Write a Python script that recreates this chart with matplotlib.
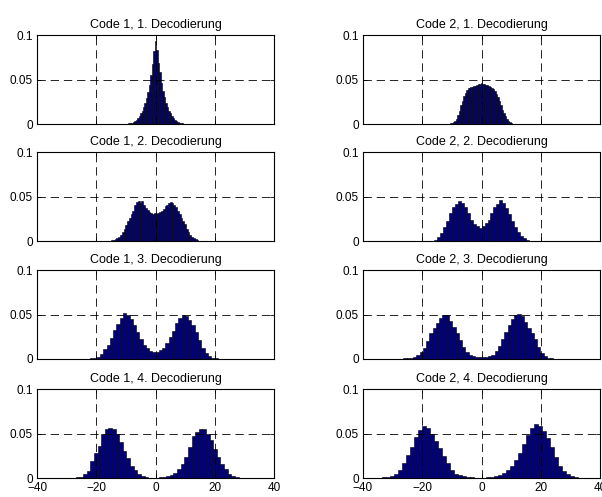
import numpy as np
import matplotlib.pyplot as plt
import matplotlib as mpl

mpl.rcParams.update({'font.family': 'Liberation Sans', 'font.size': 8.5,
                     'lines.scale_dashes': False})

titles = ['Code 1, 1. Decodierung', 'Code 2, 1. Decodierung',
          'Code 1, 2. Decodierung', 'Code 2, 2. Decodierung',
          'Code 1, 3. Decodierung', 'Code 2, 3. Decodierung',
          'Code 1, 4. Decodierung', 'Code 2, 4. Decodierung']

# histogram bins: (left edge, bin width)
bins = [(-10.25, 0.5), (-12.25, 0.5),
        (-18.0, 0.6), (-19.0, 1.0),
        (-29.7, 1.1), (-29.7, 1.1),
        (-31.8, 1.22), (-37.8, 1.35)]

c1_d1 = [0.0001, 0.0003, 0.0006, 0.001, 0.0016, 0.0024, 0.0034, 0.0048, 0.0065, 0.009,
         0.012, 0.015, 0.019, 0.024, 0.029, 0.036, 0.044, 0.055, 0.067, 0.082,
         0.093,
         0.083, 0.069, 0.058, 0.046, 0.037, 0.030, 0.024, 0.019, 0.015, 0.012,
         0.009, 0.0065, 0.0048, 0.0034, 0.0024, 0.0016, 0.001, 0.0006, 0.0003, 0.0001]

c2_d1 = [0.0, 0.0001, 0.0003, 0.0006, 0.0012, 0.0022, 0.0038, 0.006, 0.010, 0.015,
         0.021, 0.026, 0.031, 0.035, 0.038, 0.040, 0.041, 0.042, 0.042, 0.043,
         0.043, 0.044, 0.045, 0.045, 0.046, 0.045, 0.045, 0.044, 0.044, 0.043,
         0.042, 0.041, 0.039, 0.037, 0.034, 0.030, 0.026, 0.021, 0.016, 0.012,
         0.0085, 0.0055, 0.0035, 0.002, 0.0011, 0.0005, 0.0002, 0.0001, 0.0]

c1_d2 = [0.0, 0.0, 0.0001, 0.0002, 0.0005, 0.0008, 0.0012, 0.002, 0.003, 0.005,
         0.007, 0.010, 0.014, 0.018, 0.022, 0.026, 0.030, 0.034, 0.040, 0.044,
         0.045, 0.043, 0.045, 0.041, 0.037, 0.035, 0.033, 0.031, 0.030, 0.031,
         0.030, 0.032, 0.033, 0.034, 0.036, 0.039, 0.041, 0.043, 0.044, 0.043,
         0.041, 0.038, 0.034, 0.030, 0.026, 0.022, 0.019, 0.014, 0.010, 0.007,
         0.004, 0.003, 0.002, 0.0012, 0.0006, 0.0003, 0.0001, 0.0, 0.0, 0.0]

c2_d2 = [0.0, 0.0002, 0.0006, 0.0015, 0.004, 0.009, 0.016, 0.023, 0.031, 0.038,
         0.042, 0.045, 0.043, 0.038, 0.031, 0.024, 0.019, 0.017, 0.015, 0.017,
         0.020, 0.024, 0.031, 0.038, 0.042, 0.046, 0.043, 0.037, 0.030, 0.023,
         0.016, 0.010, 0.006, 0.003, 0.0012, 0.0005, 0.0002, 0.0]

c1_d3 = [0.0, 0.0003, 0.0003, 0.0004, 0.0004, 0.0005, 0.0005, 0.0007, 0.0012, 0.002,
         0.0055, 0.011, 0.016, 0.024, 0.033, 0.039, 0.046, 0.052, 0.050, 0.045,
         0.038, 0.030, 0.023, 0.016, 0.012, 0.009, 0.0075, 0.0075, 0.010, 0.012,
         0.018, 0.025, 0.032, 0.040, 0.046, 0.050, 0.048, 0.044, 0.038, 0.030,
         0.021, 0.012, 0.007, 0.003, 0.0012, 0.0006, 0.0004, 0.0003, 0.0002, 0.0001,
         0.0, 0.0, 0.0, 0.0]

c2_d3 = [0.0, 0.0003, 0.0005, 0.0006, 0.0008, 0.0012, 0.002, 0.004, 0.008, 0.012,
         0.020, 0.029, 0.035, 0.041, 0.046, 0.050, 0.049, 0.043, 0.036, 0.029,
         0.021, 0.013, 0.008, 0.005, 0.003, 0.002, 0.0018, 0.002, 0.0025, 0.003,
         0.005, 0.009, 0.015, 0.022, 0.030, 0.038, 0.045, 0.050, 0.051, 0.048,
         0.042, 0.035, 0.029, 0.022, 0.014, 0.007, 0.003, 0.0012, 0.0006, 0.0003,
         0.0002, 0.0001, 0.0, 0.0]

c1_d4 = [0.0, 0.0, 0.0002, 0.0004, 0.0008, 0.0015, 0.004, 0.0076, 0.019, 0.028,
         0.036, 0.049, 0.055, 0.056, 0.055, 0.049, 0.041, 0.030, 0.022, 0.014,
         0.009, 0.0045, 0.0023, 0.0011, 0.0004, 0.0004, 0.0004, 0.0006, 0.001, 0.002,
         0.003, 0.006, 0.010, 0.016, 0.024, 0.035, 0.047, 0.052, 0.055, 0.055,
         0.050, 0.043, 0.033, 0.024, 0.016, 0.010, 0.005, 0.002, 0.001, 0.0004,
         0.0, 0.0]

c2_d4 = [0.0, 0.0002, 0.0004, 0.0007, 0.0012, 0.0022, 0.005, 0.009, 0.017, 0.026,
         0.035, 0.046, 0.054, 0.059, 0.056, 0.050, 0.042, 0.034, 0.025, 0.017,
         0.0095, 0.005, 0.003, 0.002, 0.0014, 0.0008, 0.0005, 0.0003, 0.0004, 0.0008,
         0.0014, 0.0022, 0.0033, 0.0055, 0.009, 0.013, 0.020, 0.028, 0.038, 0.048,
         0.056, 0.061, 0.059, 0.053, 0.045, 0.035, 0.024, 0.014, 0.008, 0.004,
         0.002, 0.001, 0.0005, 0.0002, 0.0, 0.0]

values = [c1_d1, c2_d1, c1_d2, c2_d2, c1_d3, c2_d3, c1_d4, c2_d4]

fig = plt.figure(figsize=(6.02, 4.97), dpi=100)

lefts = [0.0615, 0.603]
bottoms = [0.7505, 0.515, 0.2777, 0.0382]
w, h = 0.394, 0.179

for k in range(8):
    row, col = k // 2, k % 2
    ax = fig.add_axes([lefts[col], bottoms[row], w, h])
    x0, bw = bins[k]
    vals = np.array(values[k])
    centers = x0 + bw * (np.arange(len(vals)) + 0.5)
    ax.bar(centers, vals, width=bw, color='#000080', edgecolor='black',
           linewidth=0.4)
    ax.set_xlim(-40, 40)
    ax.set_ylim(0, 0.1)
    ax.set_xticks([-40, -20, 0, 20, 40])
    ax.set_yticks([0, 0.05, 0.1])
    ax.set_yticklabels(['0', '0.05', '0.1'])
    if row < 3:
        ax.set_xticklabels([])
    ax.grid(True, color='black', linestyle=(0, (6, 3.5)), linewidth=0.6)
    ax.set_axisbelow(False)
    ax.tick_params(direction='in', length=3, width=0.6, top=True, right=True, pad=3)
    for s in ax.spines.values():
        s.set_linewidth(0.8)
    ax.set_title(titles[k], fontsize=9, pad=5)

plt.savefig('out.png', dpi=100)
